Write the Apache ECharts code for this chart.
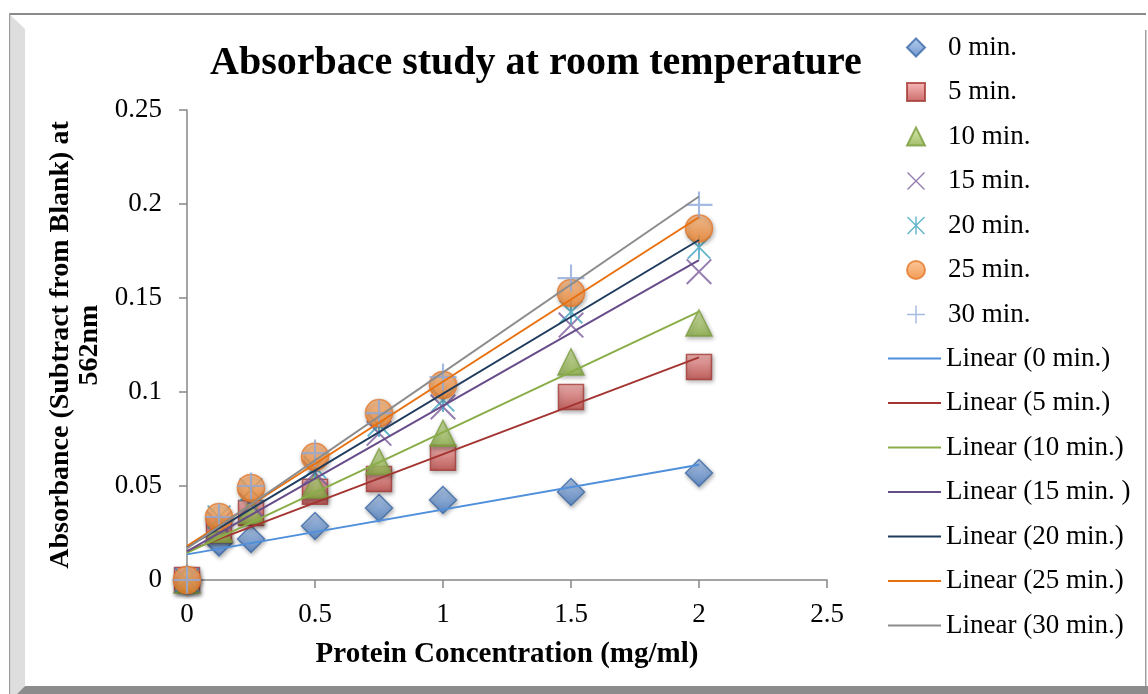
<!DOCTYPE html>
<html>
<head>
<meta charset="utf-8">
<title>Absorbace study at room temperature</title>
<script src="https://cdn.jsdelivr.net/npm/echarts@6/dist/echarts.min.js"></script>
<style>
html,body{margin:0;padding:0;background:#fff;}
#chart{width:1148px;height:694px;}
</style>
</head>
<body>
<div id="chart"></div>
<script>
// protein concentration (mg/ml)
var concentrations = [0, 0.125, 0.25, 0.5, 0.75, 1, 1.5, 2];

// absorbance readings per incubation time
var min0  = [0, 0.0200, 0.0218, 0.0287, 0.0383, 0.0426, 0.0468, 0.0569];
var min5  = [0, 0.0266, 0.0356, 0.0470, 0.0537, 0.0650, 0.0973, 0.1133];
var min10 = [0, 0.0270, 0.0370, 0.0505, 0.0630, 0.0780, 0.1160, 0.1367];
var min15 = [0, 0.0300, 0.0400, 0.0570, 0.0780, 0.0920, 0.1356, 0.1640];
var min20 = [0, 0.0335, 0.0480, 0.0600, 0.0825, 0.0957, 0.1426, 0.1770];
var min25 = [0, 0.0335, 0.0490, 0.0655, 0.0888, 0.1037, 0.1527, 0.1870];
var min30 = [0, 0.0335, 0.0500, 0.0675, 0.0888, 0.1080, 0.1606, 0.1995];

var seriesNames = ['0 min.', '5 min.', '10 min.', '15 min.', '20 min.', '25 min.', '30 min.'];
var trendNames = ['Linear (0 min.)', 'Linear (5 min.)', 'Linear (10 min.)', 'Linear (15 min. )',
                  'Linear (20 min.)', 'Linear (25 min.)', 'Linear (30 min.)'];

var xTicks = [0, 0.5, 1, 1.5, 2, 2.5];
var yTicks = [0, 0.05, 0.1, 0.15, 0.2, 0.25];

var allValues = [min0, min5, min10, min15, min20, min25, min30];

var SERIF = '"Liberation Serif", "DejaVu Serif", serif';

// marker looks, same order as the series
function grad(top, bottom){
	return new echarts.graphic.LinearGradient(0, 0, 0, 1, [
		{offset: 0, color: top}, {offset: 1, color: bottom}
	]);
}
var markers = [
	{symbol: 'diamond', size: 27, color: grad('#a7c3ec', '#4a7cc0'), border: '#3b69a8'},
	{symbol: 'rect', size: 25, color: grad('#f6aaa8', '#bd4643'), border: '#a23936'},
	{symbol: 'triangle', size: [26, 26], color: grad('#cfe59c', '#8aae44'), border: '#7a9c3b'},
	{symbol: 'path://M0,1.1 L1.1,0 L20,18.9 L18.9,20 Z M18.9,0 L20,1.1 L1.1,20 L0,18.9 Z', size: 26, color: '#7a5c9c'},
	{symbol: 'path://M0,1.1 L1.1,0 L20,18.9 L18.9,20 Z M18.9,0 L20,1.1 L1.1,20 L0,18.9 Z M9.2,0 H10.8 V20 H9.2 Z', size: 24, color: '#3ea3bf'},
	{symbol: 'circle', size: 27, color: grad('#fbbb85', '#f08127'), border: '#e5782a'},
	{symbol: 'path://M9.2,0 H10.8 V9.2 H20 V10.8 H10.8 V20 H9.2 V10.8 H0 V9.2 H9.2 Z', size: 27, color: '#8fa9d8'}
];
var trendColors = ['#4f8fdb', '#a33431', '#89ad47', '#674c8a', '#1f3b5e', '#e8700e', '#8c8c8c'];

// least squares fit, drawn from x=0 to x=2 like the spreadsheet trendline
function fit(xs, ys){
	var n = xs.length, sx = 0, sy = 0, sxx = 0, sxy = 0;
	for (var i = 0; i < n; i++) {
		sx += xs[i]; sy += ys[i]; sxx += xs[i] * xs[i]; sxy += xs[i] * ys[i];
	}
	var m = (n * sxy - sx * sy) / (n * sxx - sx * sx);
	var b = (sy - m * sx) / n;
	var x0 = xs[0], x1 = xs[n - 1];
	return [[x0, b + m * x0], [x1, b + m * x1]];
}

var series = [];
allValues.forEach(function(vals, i){
	var mk = markers[i];
	var filled = !!mk.border;
	series.push({
		name: seriesNames[i],
		type: 'scatter',
		symbol: mk.symbol,
		symbolSize: mk.size,
		data: concentrations.map(function(x, j){ return [x, vals[j]]; }),
		itemStyle: filled ? {
			color: mk.color, borderColor: mk.border, borderWidth: 1.5,
			shadowBlur: 4, shadowOffsetX: 1, shadowOffsetY: 2, shadowColor: 'rgba(0,0,0,0.35)'
		} : {color: mk.color},
		emphasis: {disabled: true},
		z: 2
	});
});
allValues.forEach(function(vals, i){
	series.push({
		name: trendNames[i],
		type: 'line',
		symbol: 'none',
		data: fit(concentrations, vals),
		lineStyle: {color: trendColors[i], width: 2},
		itemStyle: {color: trendColors[i]},
		emphasis: {disabled: true},
		z: 3
	});
});

var legendText = {fontFamily: SERIF, fontSize: 27, color: '#000', lineHeight: 27};

var chart = echarts.init(document.getElementById('chart'));
var option = {
	backgroundColor: '#fff',
	animation: false,
	title: {
		text: 'Absorbace study at room temperature',
		left: 210,
		top: 44,
		padding: 0,
		textStyle: {fontFamily: SERIF, fontSize: 40, fontWeight: 'bold', color: '#000'}
	},
	legend: [{
		data: seriesNames,
		orient: 'vertical',
		left: 906,
		top: 34,
		padding: 0,
		itemWidth: 18,
		itemHeight: 18,
		itemGap: 17.5,
		textStyle: Object.assign({padding: [0, 0, 0, 18]}, legendText)
	}, {
		data: trendNames,
		orient: 'vertical',
		left: 888,
		top: 345,
		padding: 0,
		icon: 'rect',
		itemWidth: 53,
		itemHeight: 2,
		itemGap: 17.5,
		textStyle: legendText
	}],
	grid: {left: 187, right: 321, top: 110, bottom: 114},
	xAxis: {
		type: 'value',
		min: xTicks[0],
		max: xTicks[xTicks.length - 1],
		interval: xTicks[1] - xTicks[0],
		name: 'Protein Concentration (mg/ml)',
		nameLocation: 'middle',
		nameGap: 60,
		nameTextStyle: {fontFamily: SERIF, fontSize: 29, fontWeight: 'bold', color: '#000'},
		axisLine: {lineStyle: {color: '#878787', width: 1.5}},
		axisTick: {show: true, length: 8, lineStyle: {color: '#878787', width: 1.5}},
		axisLabel: {margin: 21, fontFamily: SERIF, fontSize: 27, color: '#000'},
		splitLine: {show: false}
	},
	yAxis: {
		type: 'value',
		min: yTicks[0],
		max: yTicks[yTicks.length - 1],
		interval: yTicks[1] - yTicks[0],
		name: 'Absorbance (Subtract from Blank) at\n562nm',
		nameLocation: 'middle',
		nameGap: 80,
		nameTextStyle: {fontFamily: SERIF, fontSize: 28, fontWeight: 'bold', color: '#000', lineHeight: 29},
		axisLine: {show: true, lineStyle: {color: '#878787', width: 1.5}},
		axisTick: {show: true, length: 8, lineStyle: {color: '#878787', width: 1.5}},
		axisLabel: {margin: 25, fontFamily: SERIF, fontSize: 27, color: '#000'},
		splitLine: {show: false}
	},
	// bevelled frame round the chart area
	graphic: [
		{type: 'rect', shape: {x: 9, y: 13, width: 1137, height: 2}, style: {fill: '#8a8a8a'}, silent: true},
		{type: 'rect', shape: {x: 9, y: 13, width: 1.5, height: 681}, style: {fill: '#9a9a9a'}, silent: true},
		{type: 'polygon', shape: {points: [[10.5, 15], [25, 29], [25, 686], [17, 694], [10.5, 694]]}, style: {fill: '#dedede'}, silent: true},
		{type: 'polygon', shape: {points: [[17, 694], [25, 686], [1148, 686], [1148, 694]]}, style: {fill: '#8c8c8c'}, silent: true},
		{type: 'rect', shape: {x: 1145, y: 30, width: 1.5, height: 656}, style: {fill: '#a0a0a0'}, silent: true}
	],
	series: series
};
chart.setOption(option);
</script>
</body>
</html>
